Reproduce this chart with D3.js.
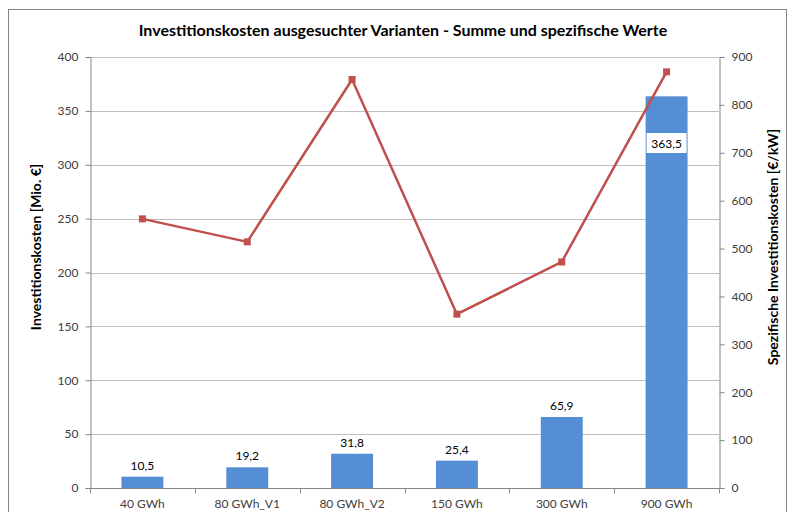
<!DOCTYPE html>
<html>
<head>
<meta charset="utf-8">
<script src="https://cdn.jsdelivr.net/npm/d3@7"></script>
<style>
  html, body { margin: 0; padding: 0; background: #fff; }
  svg { display: block; font-family: Lato, "Open Sans", sans-serif; }
</style>
</head>
<body>
<svg id="chart" width="790" height="512"></svg>
<script>
// Varianten und Kennwerte
const categories = ["40 GWh", "80 GWh_V1", "80 GWh_V2", "150 GWh", "300 GWh", "900 GWh"];
const totalCost = [10.5, 19.2, 31.8, 25.4, 65.9, 363.5];      // Mio. €
const specificCost = [562, 514, 853, 363, 472, 869];           // €/kW
const leftTicks = [0, 50, 100, 150, 200, 250, 300, 350, 400];
const rightTicks = [0, 100, 200, 300, 400, 500, 600, 700, 800, 900];

const svg = d3.select("#chart");
const plot = { left: 90, right: 719, top: 57, bottom: 488 };

// Rahmen des Diagrammbereichs
svg.append("rect")
  .attr("x", 8.5).attr("y", 9.5)
  .attr("width", 778).attr("height", 520)
  .attr("fill", "none").attr("stroke", "#868686").attr("stroke-width", 1);

const x = d3.scaleBand().domain(categories).range([plot.left, plot.right]).paddingInner(0).paddingOuter(0);
const yL = d3.scaleLinear().domain([0, 400]).range([plot.bottom, plot.top]);
const yR = d3.scaleLinear().domain([0, 900]).range([plot.bottom, plot.top]);

// Gitternetzlinien
svg.append("g").selectAll("line").data(leftTicks.filter(d => d > 0)).join("line")
  .attr("x1", plot.left).attr("x2", plot.right)
  .attr("y1", d => Math.round(yL(d)) + 0.5).attr("y2", d => Math.round(yL(d)) + 0.5)
  .attr("stroke", "#bfbfbf").attr("stroke-width", 1);

// Balken: Summe der Investitionskosten
const barW = x.bandwidth() * 0.4;
svg.append("g").selectAll("rect").data(categories).join("rect")
  .attr("x", (d) => x(d) + (x.bandwidth() - barW) / 2)
  .attr("width", barW)
  .attr("y", (d, i) => yL(totalCost[i]))
  .attr("height", (d, i) => plot.bottom - yL(totalCost[i]))
  .attr("fill", "#558ed5");

// Achsen
const axisColor = "#868686";
const textColor = "#404040";

const gL = svg.append("g").attr("transform", `translate(${plot.left + 0.5},0)`)
  .call(d3.axisLeft(yL).tickValues(leftTicks).tickSize(5).tickPadding(7).tickFormat(d3.format("d")));
const gR = svg.append("g").attr("transform", `translate(${plot.right + 0.5},0)`)
  .call(d3.axisRight(yR).tickValues(rightTicks).tickSize(5).tickPadding(7).tickFormat(d3.format("d")));
[gL, gR].forEach(g => {
  g.select(".domain").attr("stroke", axisColor);
  g.selectAll(".tick line").attr("stroke", axisColor);
  g.selectAll(".tick text").attr("fill", textColor).style("font-size", "12px").style("font-family", "Lato, sans-serif");
});

// Kategorieachse mit Teilstrichen an den Bandgrenzen
const gB = svg.append("g").attr("transform", `translate(0,${plot.bottom + 0.5})`);
gB.append("line").attr("x1", plot.left).attr("x2", plot.right + 0.5)
  .attr("stroke", axisColor);
const boundaries = categories.map(c => x(c)).concat([x(categories[categories.length - 1]) + x.bandwidth()]);
gB.selectAll(".tk").data(boundaries).join("line").attr("class", "tk")
  .attr("x1", d => Math.round(d) + 0.5).attr("x2", d => Math.round(d) + 0.5)
  .attr("y1", 0).attr("y2", 5).attr("stroke", axisColor);
gB.selectAll("text").data(categories).join("text")
  .attr("x", d => x(d) + x.bandwidth() / 2)
  .attr("y", 19)
  .attr("text-anchor", "middle")
  .attr("fill", textColor)
  .style("font-size", "12px")
  .text(d => d);

// Linie: spezifische Investitionskosten
const line = d3.line()
  .x((d, i) => x(categories[i]) + x.bandwidth() / 2)
  .y(d => yR(d));
svg.append("path").datum(specificCost)
  .attr("d", line).attr("fill", "none")
  .attr("stroke", "#c0504d").attr("stroke-width", 2.5).attr("stroke-linejoin", "round");
svg.append("g").selectAll("rect").data(specificCost).join("rect")
  .attr("x", (d, i) => x(categories[i]) + x.bandwidth() / 2 - 3.5)
  .attr("y", d => yR(d) - 3.5)
  .attr("width", 7).attr("height", 7)
  .attr("fill", "#c0504d");

// Datenbeschriftungen der Balken
const labelFmt = v => d3.format(".1f")(v).replace(".", ",");
categories.forEach((c, i) => {
  const cx = x(c) + x.bandwidth() / 2;
  const v = totalCost[i];
  if (v > 300) {
    const cy = 143;
    svg.append("rect").attr("x", cx - 20).attr("y", cy - 10).attr("width", 40).attr("height", 20).attr("fill", "#fff");
    svg.append("text").attr("x", cx).attr("y", cy + 4.5).attr("text-anchor", "middle")
      .attr("fill", "#000").style("font-size", "12px").text(labelFmt(v));
  } else {
    svg.append("text").attr("x", cx).attr("y", yL(v) - 7).attr("text-anchor", "middle")
      .attr("fill", "#000").style("font-size", "12px").text(labelFmt(v));
  }
});

// Titel und Achsentitel
const axisTitleY = 247;
svg.append("text").attr("x", 403).attr("y", 36).attr("text-anchor", "middle")
  .style("font-size", "16px").style("font-weight", "bold").attr("fill", "#000")
  .text("Investitionskosten ausgesuchter Varianten - Summe und spezifische Werte");
svg.append("text").attr("transform", `translate(41,${axisTitleY}) rotate(-90)`)
  .attr("text-anchor", "middle").style("font-size", "14px").style("font-weight", "bold").attr("fill", "#000")
  .text("Investitionskosten [Mio. €]");
svg.append("text").attr("transform", `translate(778,${axisTitleY}) rotate(-90)`)
  .attr("text-anchor", "middle").style("font-size", "14px").style("font-weight", "bold").attr("fill", "#000")
  .text("Spezifische Investitionskosten [€/kW]");
</script>
</body>
</html>
